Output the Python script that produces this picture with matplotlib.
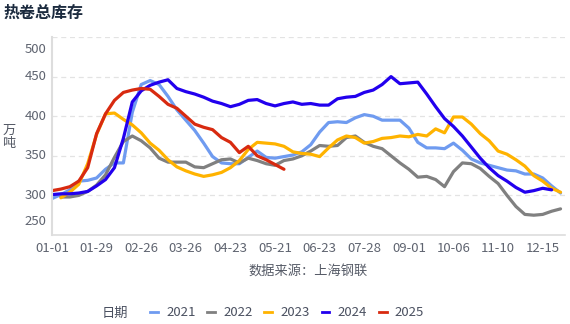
import numpy as np
import matplotlib
matplotlib.use("Agg")
import matplotlib.pyplot as plt
from matplotlib.lines import Line2D

plt.rcParams['font.family'] = ['Noto Sans CJK SC', 'DejaVu Sans']

# x 轴类别标签（每 5 个类别显示一个）
tick_labels = ['01-01', '01-29', '02-26', '03-26', '04-23', '05-21',
               '06-23', '07-28', '09-01', '10-06', '11-10', '12-15']
n_cat = 58

# 各年度库存（万吨），None 表示无数据
y2021 = [296, 301, 307, 318, 319, 322, 333, 341, 341, 405, 440, 445, 440, 425,
         408, 395, 382, 366, 349, 341, 340, 340, 348, 356, 348, 347, 349, 351,
         355, 364, 380, 392, 393, 392, 398, 402, 400, 395, 395, 395, 385, 367,
         360, 360, 359, 366, 357, 346, 341, 338, 335, 332, 331, 327, 327, 322,
         312, 303]
y2022 = [None, 298, 298, 300, 305, 313, 326, 348, 368, 375, 369, 360, 347, 342,
         342, 342, 336, 335, 340, 345, 346, 341, 347, 344, 340, 338, 344, 346,
         350, 356, 363, 362, 363, 373, 375, 367, 362, 359, 350, 341, 333, 323,
         324, 320, 311, 330, 341, 340, 334, 324, 315, 300, 286, 276, 275, 276,
         280, 283]
y2023 = [None, 297, 304, 314, 340, 377, 403, 404, 396, 389, 379, 366, 357, 345,
         336, 331, 327, 324, 326, 329, 335, 344, 358, 367, 366, 365, 362, 355,
         353, 352, 349, 360, 370, 375, 373, 366, 368, 372, 373, 375, 374, 377,
         375, 384, 379, 399, 399, 390, 378, 369, 356, 352, 345, 337, 325, 318,
         309, 304]
y2024 = [301, 302, 302, 303, 305, 312, 320, 335, 372, 418, 432, 439, 443, 446,
         435, 431, 428, 424, 419, 416, 412, 415, 420, 421, 416, 413, 416, 418,
         415, 416, 414, 414, 422, 424, 425, 430, 433, 440, 450, 441, 442, 443,
         428, 412, 397, 387, 375, 361, 347, 335, 325, 318, 310, 304, 306, 309,
         307]
y2025 = [306, 308, 311, 318, 335, 378, 403, 420, 430, 433, 435, 434, 425, 415,
         410, 400, 390, 386, 383, 373, 367, 354, 362, 350, 345, 339, 333]

series = [('2021', y2021, '#6F9BF0'),
          ('2022', y2022, '#808080'),
          ('2023', y2023, '#FFB300'),
          ('2024', y2024, '#2200EE'),
          ('2025', y2025, '#D82A10')]

yticks = [250, 300, 350, 400, 450, 500]

fig = plt.figure(figsize=(5.7, 3.24), dpi=100)
ax = fig.add_axes([52 / 570, 1 - 235 / 324, 513 / 570, 198 / 324])

for name, vals, col in series:
    v = np.array(vals, dtype=float)
    ax.plot(np.arange(len(v)), v, color=col, lw=2.3, solid_joinstyle='round',
            solid_capstyle='round', label=name)

ax.set_xlim(0, 57.5)
ax.set_ylim(250, 500)

ax.set_xticks(np.arange(0, n_cat, 5)[:len(tick_labels)])
ax.set_xticklabels(tick_labels)
ax.tick_params(axis='x', length=0, pad=5, labelsize=9.5, labelcolor='#5f6470')

# y 刻度：两端标签向内收
ax.set_yticks(yticks)
ax.set_yticklabels([])
ax.tick_params(axis='y', length=0)
for v in yticks:
    dy = 0
    if v == yticks[-1]:
        dy = -9
    elif v == yticks[0]:
        dy = 9.5
    ax.annotate(str(v), xy=(0, v), xycoords=ax.get_yaxis_transform(),
                xytext=(-4, dy), textcoords='offset points',
                ha='right', va='center', fontsize=9.5, color='#5f6470')

for v in yticks[1:]:
    ax.axhline(v, color='#e3e3e3', lw=0.9, ls=(0, (4, 3)), zorder=0)

for s in ['top', 'right']:
    ax.spines[s].set_visible(False)
ax.spines['left'].set_color('#dddddd')
ax.spines['left'].set_linewidth(1.5)
ax.spines['bottom'].set_color('#dddddd')
ax.spines['bottom'].set_linewidth(1.2)

fig.text(3 / 570, 1 - 13 / 324, '热卷总库存', fontsize=11.5, fontweight='bold',
         color='#1c2b3f', ha='left', va='center')
fig.text(9 / 570, 1 - 137 / 324, '万\n吨', fontsize=9.5, color='#555a66',
         ha='center', va='center', linespacing=1.0)
fig.text(308 / 570, 1 - 272 / 324, '数据来源：上海钢联', fontsize=9.5,
         color='#555a66', ha='center', va='center')

handles = [Line2D([], [], color=c, lw=2) for _, _, c in series]
labels = [n for n, _, _ in series]
fig.legend(handles, labels, loc='center', bbox_to_anchor=(287 / 570, 1 - 313 / 324),
           ncol=5, frameon=False, handlelength=0.6, handletextpad=0.6,
           columnspacing=0.9, fontsize=9.5, labelcolor='#4a5060')
fig.text(102 / 570, 1 - 313 / 324, '日期', fontsize=9.5, color='#4a5060',
         ha='left', va='center')

fig.savefig('out.png', dpi=100)
